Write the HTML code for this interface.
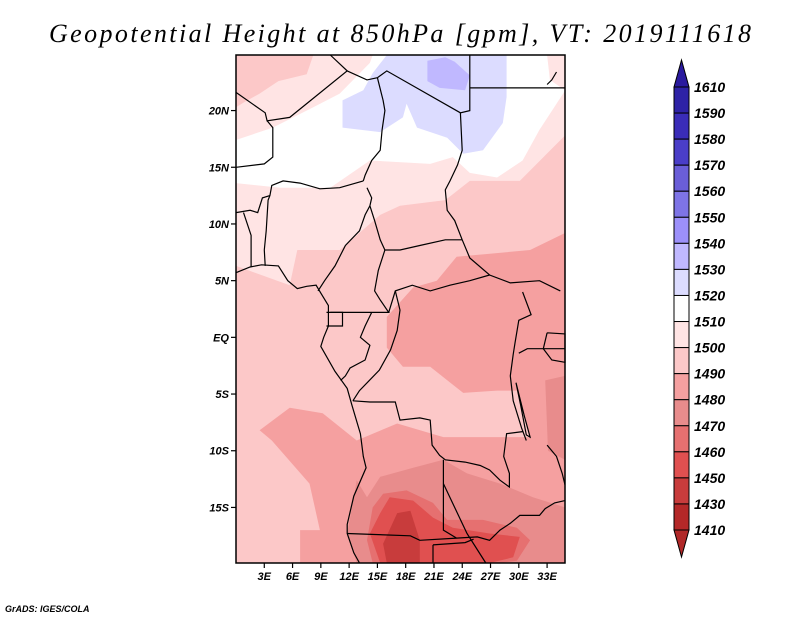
<!DOCTYPE html>
<html><head><meta charset="utf-8">
<style>
html,body{margin:0;padding:0;background:#fff;}
svg{display:block;}
.lab{font-family:"Liberation Sans",sans-serif;font-style:italic;font-weight:bold;fill:#000;}
</style></head>
<body>
<svg id="chart" width="800" height="618" viewBox="0 0 800 618" xmlns="http://www.w3.org/2000/svg">
  <text x="400" y="42" text-anchor="middle" textLength="702" lengthAdjust="spacing" font-family="'Liberation Serif',serif" font-style="italic" font-size="26">Geopotential Height at 850hPa [gpm], VT: 2019111618</text>
  <g id="fills"></g>
  <g id="borders"></g>
  <rect x="236" y="55" width="329" height="508" fill="none" stroke="#000" stroke-width="1.5"/>
  <g id="axes"></g>
  <g id="cbar"></g>
  <text x="5" y="612" class="lab" font-size="9">GrADS: IGES/COLA</text>
</svg>
<script>
// Colorbar data
const cbarLabels = [1610,1590,1580,1570,1560,1550,1540,1530,1520,1510,1500,1490,1480,1470,1460,1450,1430,1410];
const cbarColors = ["#2e22a6","#3a2cb8","#4a3ec8","#6a5ed8","#7e74e6","#9c90fa","#c0b8ff","#dcdcff","#ffffff","#ffe4e4","#fcc8c8","#f5a0a0","#e88c8c","#e67070","#e05050","#c83c3c","#b42828"];
const topTriColor = "#2a1a9e";
const botTriColor = "#b02828";
// Axis ticks
const latTicks = [20,15,10,5,0,-5,-10,-15];
const latLabels = ["20N","15N","10N","5N","EQ","5S","10S","15S"];
const lonTicks = [3,6,9,12,15,18,21,24,27,30,33];
const lonLabels = ["3E","6E","9E","12E","15E","18E","21E","24E","27E","30E","33E"];
// Contour regions (color, lon/lat polygons)
const regionColors = ["#fcc8c8","#ffe4e4","#fcc8c8","#ffffff","#dcdcff","#c0b8ff","#f5a0a0","#f5a0a0","#e88c8c","#e88c8c","#e67070","#e05050","#c83c3c"];
const regionPolys = [
 [[0,24.9],[34.9,24.9],[34.9,-19.9],[0,-19.9]],
 [[0,24.9],[34.9,24.9],[34.9,17.8],[30.1,13.8],[24.8,13.8],[22.2,12.1],[17.4,11.6],[15.3,10.8],[11.0,7.7],[6.5,7.7],[5.7,4.6],[0,6.3]],
 [[0,24.9],[8.2,24.9],[7.5,23.2],[4.5,22.6],[2.5,21.5],[0.8,20.7],[0,20.3]],
 [[0,17.4],[3.9,18.5],[8.2,20.3],[11.0,21.5],[14.2,24.2],[14.5,24.9],[33.0,24.9],[33.3,22.7],[34.9,21.8],[34.7,21.5],[32.2,18.3],[30.4,15.6],[27.7,14.1],[24.8,14.5],[23.0,15.9],[20.6,15.3],[14.2,15.6],[10.0,13.2],[4.7,13.2],[0,13.6]],
 [[11.3,20.9],[11.3,18.5],[15.3,18.1],[17.7,19.4],[18.1,20.6],[19.2,18.5],[22.4,17.6],[24.1,16.2],[26.2,16.5],[28.3,18.9],[28.7,21.2],[28.7,24.9],[16.0,24.9],[14.5,23.3],[13.5,21.8]],
 [[20.3,24.4],[22.2,24.7],[23.2,24.3],[24.8,23.1],[24.3,21.8],[21.6,22.0],[20.3,22.6]],
 [[21.3,5.0],[23.4,7.1],[31.2,7.7],[34.9,9.2],[34.9,-8.8],[31.2,-8.8],[29.8,-4.7],[27.7,-4.7],[24.1,-4.9],[20.6,-2.6],[17.7,-2.6],[16.0,-0.9],[16.0,1.8],[18.8,4.4]],
 [[2.5,-8.2],[5.7,-6.2],[9.2,-6.7],[12.8,-9.1],[17.1,-7.6],[22.0,-8.8],[27.7,-8.8],[31.2,-8.8],[34.9,-7.3],[34.9,-19.9],[6.8,-19.9],[6.8,-17.0],[8.9,-17.0],[7.8,-12.9],[3.8,-9.1]],
 [[12.8,-12.6],[13.9,-14.1],[15.3,-12.3],[18.8,-11.5],[22.0,-10.8],[24.5,-12.0],[28.0,-12.9],[31.5,-14.1],[34.9,-15.0],[34.9,-19.9],[12.8,-19.9],[11.8,-17.3],[12.1,-15.9]],
 [[32.8,-3.8],[34.9,-3.4],[34.9,-10.8],[33.1,-10.0]],
 [[14.5,-15.0],[15.6,-13.8],[18.1,-13.5],[20.9,-14.6],[22.4,-16.1],[26.2,-16.1],[29.8,-16.8],[31.2,-17.9],[29.8,-19.7],[28.0,-19.9],[14.5,-19.9],[13.9,-17.9]],
 [[15.3,-15.5],[16.3,-14.1],[18.8,-14.4],[20.9,-15.9],[23.0,-16.8],[26.9,-17.3],[30.1,-17.6],[29.4,-19.4],[26.9,-19.9],[15.3,-19.9],[14.2,-17.3]],
 [[15.6,-18.2],[17.1,-15.5],[18.5,-15.3],[19.5,-17.9],[19.5,-19.9],[16.0,-19.9]]
];
// Coastline and borders (lon/lat polylines)
const borderLines = [
 [[0,5.7],[1.5,6.2],[2.7,6.4],[4.5,6.3],[5.5,5.0],[6.5,4.3],[7.5,4.5],[8.5,4.6],[9.0,3.9],[9.8,2.8],[9.8,1.0],[9.3,0.0],[9.0,-0.8],[10.5,-3.0],[11.8,-4.5],[12.3,-6.0],[13.2,-8.5],[13.5,-10.5],[13.8,-11.5],[12.5,-14.0],[11.8,-16.5],[11.8,-17.3],[12.5,-19.0],[13.1,-19.9]],
 [[10.0,24.9],[11.8,23.5],[5.7,19.4],[3.3,19.1],[3.1,19.8],[0,21.6]],
 [[3.3,19.1],[3.9,18.5],[3.9,15.9],[3.0,15.3],[0,15.0]],
 [[11.8,23.5],[13.9,22.7],[15.0,22.9],[16.0,23.5],[23.8,19.8],[24.8,20.0],[24.8,24.9]],
 [[24.8,22.0],[34.9,22.0]],
 [[15.0,22.9],[15.6,20.9],[15.8,20.0],[15.5,18.3],[15.3,16.5],[14.4,15.6],[13.7,14.3],[13.5,13.8]],
 [[23.8,19.8],[24.0,16.5],[23.5,15.2],[22.7,13.8],[22.2,13.0],[22.4,11.2],[23.2,10.3],[24.0,8.6],[24.8,7.0],[26.9,5.5],[29.1,4.8],[32.2,5.0],[34.4,4.1]],
 [[13.5,13.8],[11.0,13.2],[8.9,13.1],[6.8,13.6],[5.0,13.8],[3.8,13.4],[3.6,12.5],[3.4,12.1],[3.2,9.4],[3.0,7.7],[3.1,6.3]],
 [[0,11.0],[1.5,11.2],[2.3,11.0],[2.8,12.3],[3.6,12.5]],
 [[1.6,6.2],[1.6,9.0],[0.8,11.0]],
 [[13.9,13.2],[14.4,12.3],[14.2,11.6],[13.7,10.8],[13.1,9.4],[11.6,8.1],[10.5,6.3],[9.4,5.0],[8.7,4.1]],
 [[14.2,11.6],[14.7,10.3],[15.3,8.6],[15.8,7.7],[17.4,7.7],[19.5,8.1],[22.2,8.6],[24.0,8.6]],
 [[15.8,7.7],[15.1,5.9],[14.7,4.1],[15.3,3.3],[16.2,2.2],[14.4,2.2],[10.0,2.2],[9.6,2.2]],
 [[10.0,2.2],[11.3,2.2],[11.3,1.0],[9.6,1.0]],
 [[16.2,2.2],[16.9,4.1],[18.7,4.6],[20.6,4.1],[22.7,4.6],[24.8,5.0],[26.9,5.5]],
 [[16.9,4.1],[17.4,2.4],[17.1,0.6],[16.4,-1.1],[15.2,-2.9],[13.1,-4.7],[12.4,-5.6]],
 [[14.4,2.2],[13.7,1.0],[13.2,0.0],[14.2,-0.7],[13.7,-2.0],[12.1,-2.7],[11.6,-3.4],[11.1,-3.8]],
 [[12.4,-5.6],[14.2,-5.7],[16.9,-5.7],[17.4,-7.3],[19.5,-7.1],[20.6,-7.3],[20.8,-9.5],[21.6,-10.4],[22.2,-10.8],[24.3,-11.0],[25.9,-11.3],[26.9,-11.7],[28.0,-12.6],[29.0,-13.2],[29.0,-12.0],[28.4,-10.5],[28.7,-8.5],[30.5,-8.3]],
 [[22.0,-10.8],[22.0,-12.9],[22.0,-17.0],[23.4,-17.7]],
 [[11.8,-17.3],[18.5,-17.5],[19.5,-17.9],[23.4,-17.7],[25.6,-17.6],[26.9,-17.9],[28.0,-17.0],[29.1,-16.4],[30.1,-15.7],[32.2,-15.7],[32.8,-15.1],[33.8,-14.6],[34.9,-14.4]],
 [[20.9,-18.3],[20.9,-19.9]],
 [[20.9,-18.3],[24.3,-18.1],[25.2,-17.8]],
 [[22.0,-12.9],[24.5,-17.3],[26.5,-19.9]],
 [[30.4,4.0],[31.3,2.0],[30.0,1.5],[29.6,-0.5],[29.4,-1.5],[29.1,-3.4],[29.4,-5.6],[30.3,-8.0],[30.8,-9.1]],
 [[30.0,-1.4],[30.9,-1.0],[32.5,-1.0],[34.9,-1.0]],
 [[33.0,0.4],[34.9,0.3],[34.9,-2.2],[33.5,-2.0],[32.6,-1.0],[33.0,0.4]],
 [[29.7,-4.0],[30.2,-6.0],[30.8,-8.6],[31.2,-8.8],[30.6,-7.0],[30.0,-5.0],[29.7,-4.0]],
 [[33.0,-9.5],[34.0,-10.5],[34.6,-12.0],[34.9,-13.0]],
 [[34.0,23.4],[33.5,22.7],[33.0,22.3]]
];
const svgNS = "http://www.w3.org/2000/svg";
const X0=236, X1=565, Y0=55, Y1=563, LON0=0, LON1=34.9, LAT0=-19.9, LAT1=24.9;
function xs(lon){return X0+(lon-LON0)/(LON1-LON0)*(X1-X0);}
function ys(lat){return Y1-(lat-LAT0)/(LAT1-LAT0)*(Y1-Y0);}
function pts(a){return a.map(p=>xs(p[0]).toFixed(1)+","+ys(p[1]).toFixed(1)).join(" ");}

const fills=document.getElementById("fills");
regionPolys.forEach((poly,i)=>{
  const el=document.createElementNS(svgNS,"polygon");
  el.setAttribute("points",pts(poly));
  el.setAttribute("fill",regionColors[i]);
  
  
  fills.appendChild(el);
});
const borders=document.getElementById("borders");
borderLines.forEach(line=>{
  const el=document.createElementNS(svgNS,"polyline");
  el.setAttribute("points",pts(line));
  el.setAttribute("fill","none");
  el.setAttribute("stroke","#000");
  el.setAttribute("stroke-width","1.2");
  
  
  borders.appendChild(el);
});
const axes=document.getElementById("axes");
latTicks.forEach((lat,i)=>{
  const y=ys(lat);
  const t=document.createElementNS(svgNS,"line");
  t.setAttribute("x1",X0-5);t.setAttribute("x2",X0);t.setAttribute("y1",y);t.setAttribute("y2",y);
  t.setAttribute("stroke","#000");t.setAttribute("stroke-width","1.2");
  
  
  axes.appendChild(t);
  const tx=document.createElementNS(svgNS,"text");
  tx.setAttribute("x",X0-7);tx.setAttribute("y",y+4);tx.setAttribute("text-anchor","end");
  tx.setAttribute("class","lab");tx.setAttribute("font-size","11");
  tx.textContent=latLabels[i];
  
  
  axes.appendChild(tx);
});
lonTicks.forEach((lon,i)=>{
  const x=xs(lon);
  const t=document.createElementNS(svgNS,"line");
  t.setAttribute("x1",x);t.setAttribute("x2",x);t.setAttribute("y1",Y1);t.setAttribute("y2",Y1+5);
  t.setAttribute("stroke","#000");t.setAttribute("stroke-width","1.2");
  
  
  axes.appendChild(t);
  const tx=document.createElementNS(svgNS,"text");
  tx.setAttribute("x",x);tx.setAttribute("y",Y1+17);tx.setAttribute("text-anchor","middle");
  tx.setAttribute("class","lab");tx.setAttribute("font-size","11");
  tx.textContent=lonLabels[i];
  
  
  axes.appendChild(tx);
});
// Colorbar
const cb=document.getElementById("cbar");
const CBX=674, CBW=15, CBT=87, CBB=530;
const boxH=(CBB-CBT)/cbarColors.length;
const tri1=document.createElementNS(svgNS,"polygon");
tri1.setAttribute("points",`${CBX},${CBT} ${CBX+CBW},${CBT} ${CBX+CBW/2},${CBT-27}`);
tri1.setAttribute("fill",topTriColor);tri1.setAttribute("stroke","#000");tri1.setAttribute("stroke-width","1");


cb.appendChild(tri1);
cbarColors.forEach((c,i)=>{
  const r=document.createElementNS(svgNS,"rect");
  r.setAttribute("x",CBX);r.setAttribute("y",CBT+i*boxH);r.setAttribute("width",CBW);r.setAttribute("height",boxH);
  r.setAttribute("fill",c);r.setAttribute("stroke","#000");r.setAttribute("stroke-width","1");
  
  
  cb.appendChild(r);
});
const tri2=document.createElementNS(svgNS,"polygon");
tri2.setAttribute("points",`${CBX},${CBB} ${CBX+CBW},${CBB} ${CBX+CBW/2},${CBB+27}`);
tri2.setAttribute("fill",botTriColor);tri2.setAttribute("stroke","#000");tri2.setAttribute("stroke-width","1");


cb.appendChild(tri2);
cbarLabels.forEach((v,i)=>{
  const tx=document.createElementNS(svgNS,"text");
  tx.setAttribute("x",CBX+CBW+5);tx.setAttribute("y",CBT+i*boxH+5);
  tx.setAttribute("class","lab");tx.setAttribute("font-size","14");
  tx.textContent=v;
  
  
  cb.appendChild(tx);
});
</script>
</body></html>
